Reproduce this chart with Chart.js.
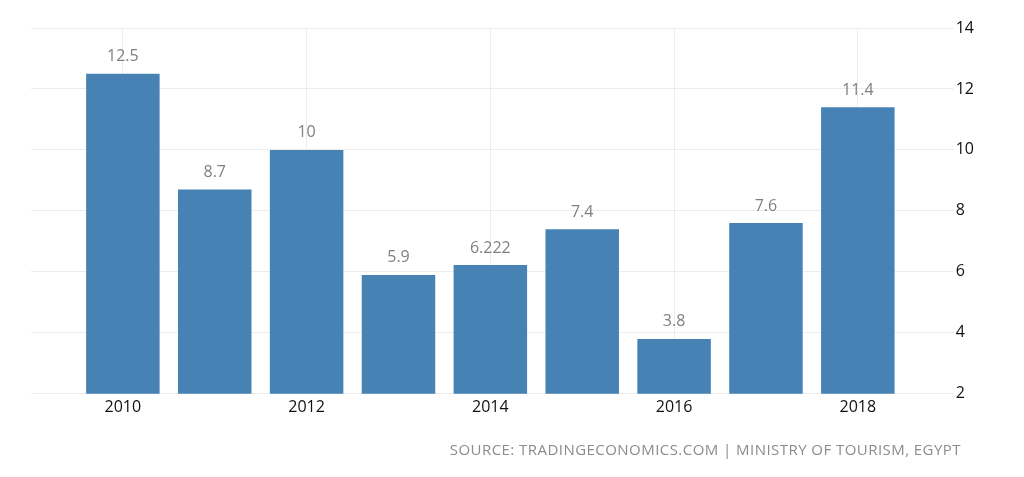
<!DOCTYPE html>
<html>
<head>
<meta charset="utf-8">
<script src="https://cdn.jsdelivr.net/npm/chart.js@4"></script>
<style>
  html, body { margin: 0; padding: 0; background: #fff; }
  #wrap { position: relative; width: 1024px; height: 477px; }
  #source { position: absolute; right: 63px; top: 439px; font-family: "Open Sans", sans-serif; font-size: 15px; color: #8c8c8c; letter-spacing: 0.45px; white-space: nowrap; }
</style>
</head>
<body>
<div id="wrap">
  <canvas id="c" width="1024" height="477"></canvas>
  <div id="source">SOURCE: TRADINGECONOMICS.COM | MINISTRY OF TOURISM, EGYPT</div>
</div>
<script>
const years = [2010, 2011, 2012, 2013, 2014, 2015, 2016, 2017, 2018];
const values = [12.5, 8.7, 10, 5.9, 6.222, 7.4, 3.8, 7.6, 11.4];
const yTicks = [2, 4, 6, 8, 10, 12, 14];
const xTicks = [2010, 2012, 2014, 2016, 2018];

const valueLabels = {
  id: 'valueLabels',
  afterDatasetsDraw(chart) {
    const ctx = chart.ctx;
    const meta = chart.getDatasetMeta(0);
    ctx.save();
    ctx.font = '16px "Open Sans", sans-serif';
    ctx.fillStyle = '#808080';
    ctx.textAlign = 'center';
    ctx.textBaseline = 'middle';
    meta.data.forEach((bar, i) => {
      ctx.fillText(String(values[i]), bar.x, bar.y - 17);
    });
    ctx.restore();
  }
};

new Chart(document.getElementById('c'), {
  type: 'bar',
  data: {
    datasets: [{
      data: years.map((y, i) => ({ x: y, y: values[i] })),
      backgroundColor: '#4682b4',
      borderWidth: 0,
      barPercentage: 0.8,
      categoryPercentage: 1.0
    }]
  },
  options: {
    responsive: false,
    animation: false,
    devicePixelRatio: 1,
    layout: { padding: { top: 28, right: 48, left: 31, bottom: 56 } },
    plugins: { legend: { display: false }, tooltip: { enabled: false } },
    scales: {
      x: {
        type: 'linear',
        offset: false,
        min: 2009,
        max: 2019,
        afterBuildTicks(axis) { axis.ticks = xTicks.map(v => ({ value: v })); },
        ticks: { color: '#111', font: { family: '"Open Sans", sans-serif', size: 16 }, padding: 4, callback: v => String(v), maxRotation: 0, autoSkip: false },
        grid: { color: '#ececec', drawTicks: false, offset: false },
        border: { display: false }
      },
      y: {
        position: 'right',
        min: 2,
        max: 14,
        afterBuildTicks(axis) { axis.ticks = yTicks.map(v => ({ value: v })); },
        ticks: { color: '#111', font: { family: '"Open Sans", sans-serif', size: 16 }, padding: 2 },
        grid: { color: '#ececec', drawTicks: true, tickLength: 4 },
        border: { display: false }
      }
    }
  },
  plugins: [valueLabels]
});
</script>
</body>
</html>
